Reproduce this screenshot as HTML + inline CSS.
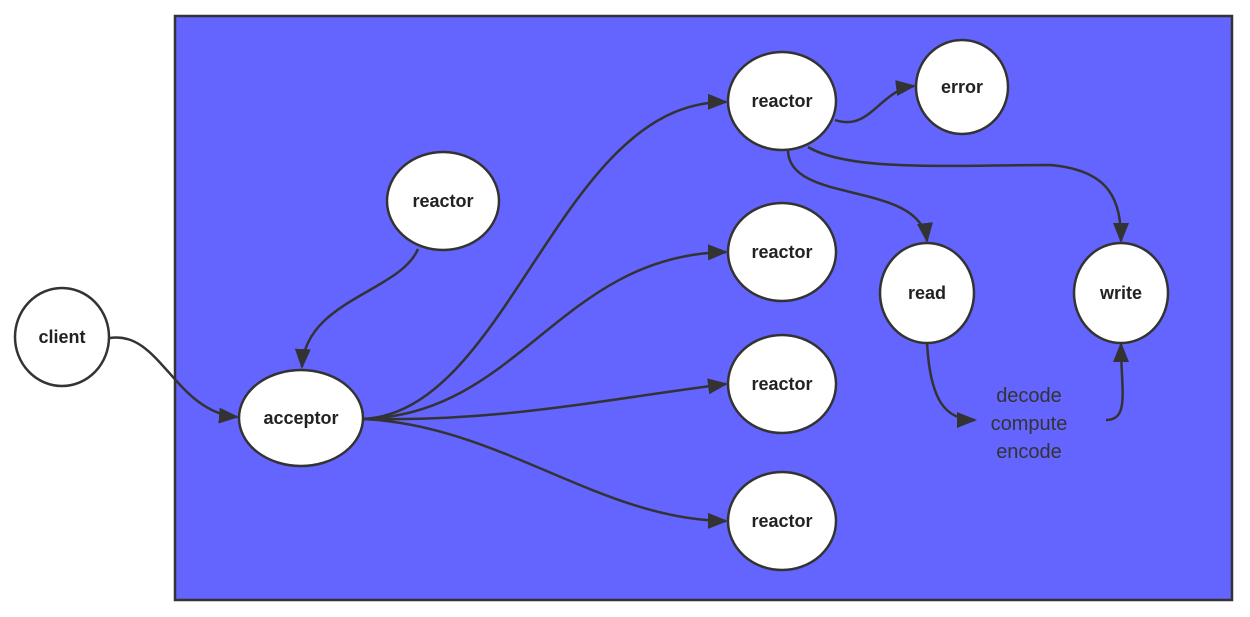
<!DOCTYPE html>
<html><head><meta charset="utf-8"><style>
html,body{margin:0;padding:0;background:#fff;width:1250px;height:617px;overflow:hidden}
svg{display:block}
.n{fill:#fff;stroke:#333;stroke-width:2.5}
.t{font-family:"Liberation Sans",sans-serif;font-weight:bold;font-size:18px;fill:#222;text-anchor:middle;dominant-baseline:central}
.e{fill:none;stroke:#333;stroke-width:2.5}
.l{font-family:"Liberation Sans",sans-serif;font-size:20px;fill:#333;text-anchor:middle}
</style></head><body>
<svg width="1250" height="617" viewBox="0 0 1250 617">
<defs>
<marker id="b" viewBox="0 0 10 10" refX="9" refY="5" markerWidth="20" markerHeight="20" markerUnits="userSpaceOnUse" orient="auto"><path d="M0,1 L10,5 L0,9 z" fill="#333"/></marker></defs>
<rect x="175" y="16" width="1057" height="584" fill="#6464FF" stroke="#333" stroke-width="2.5"/>
<g class="e" marker-end="url(#b)">
<path d="M110,338 C160,330 175,412 237,417"/>
<path d="M418,249 C400,292 305,300 302,367"/>
<path d="M363,419 C510,412 560,100 726,102"/>
<path d="M363,419 C520,415 560,255 726,252"/>
<path d="M363,419 C500,422 600,400 726,384"/>
<path d="M363,419 C500,425 600,520 726,521"/>
<path d="M835,120 C870,132 880,90 914,86"/>
<path d="M788,151 C790,205 920,180 927,241"/>
<path d="M808,147 C850,172 950,165 1050,165 C1110,170 1121,200 1121,241"/>
<path d="M927,342 C930,400 945,420 975,420"/>
<path d="M1106,420 C1130,420 1121,390 1121,344"/>
</g>
<ellipse class="n" cx="62" cy="337" rx="47" ry="49"/><text class="t" x="62" y="337">client</text>
<ellipse class="n" cx="301" cy="418" rx="62" ry="48"/><text class="t" x="301" y="418">acceptor</text>
<ellipse class="n" cx="443" cy="201" rx="56" ry="49"/><text class="t" x="443" y="201">reactor</text>
<ellipse class="n" cx="782" cy="101" rx="54" ry="49"/><text class="t" x="782" y="101">reactor</text>
<ellipse class="n" cx="962" cy="87" rx="46" ry="47"/><text class="t" x="962" y="87">error</text>
<ellipse class="n" cx="782" cy="252" rx="54" ry="49"/><text class="t" x="782" y="252">reactor</text>
<ellipse class="n" cx="782" cy="384" rx="54" ry="49"/><text class="t" x="782" y="384">reactor</text>
<ellipse class="n" cx="782" cy="521" rx="54" ry="49"/><text class="t" x="782" y="521">reactor</text>
<ellipse class="n" cx="927" cy="293" rx="47" ry="50"/><text class="t" x="927" y="293">read</text>
<ellipse class="n" cx="1121" cy="293" rx="47" ry="50"/><text class="t" x="1121" y="293">write</text>
<text class="l" x="1029" y="402">decode</text>
<text class="l" x="1029" y="430">compute</text>
<text class="l" x="1029" y="458">encode</text>
</svg>
</body></html>
